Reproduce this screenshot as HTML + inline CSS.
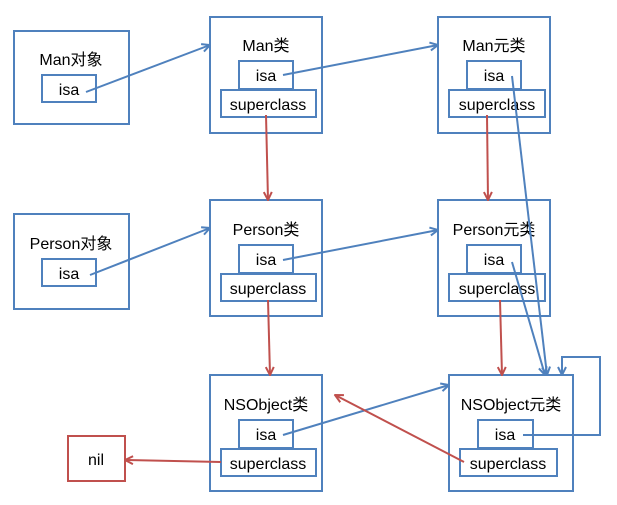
<!DOCTYPE html>
<html><head><meta charset="utf-8"><style>
html,body{margin:0;padding:0;background:#fff;width:617px;height:505px;overflow:hidden}
text{font-family:"Liberation Sans","Noto Sans CJK SC",sans-serif;font-size:16px;fill:#000}
</style></head><body>
<svg width="617" height="505" xmlns="http://www.w3.org/2000/svg">
<defs>
<marker id="b" markerWidth="10" markerHeight="10" refX="9" refY="5" orient="auto" markerUnits="userSpaceOnUse"><path d="M1,1 L9,5 L1,9" fill="none" stroke="#4f81bd" stroke-width="2"/></marker>
<marker id="r" markerWidth="10" markerHeight="10" refX="9" refY="5" orient="auto" markerUnits="userSpaceOnUse"><path d="M1,1 L9,5 L1,9" fill="none" stroke="#c0504d" stroke-width="2"/></marker>
</defs>
<g fill="#fff" stroke="#4f81bd" stroke-width="2">
<rect x="14" y="31" width="115" height="93"/><rect x="42" y="75" width="54" height="27"/>
<rect x="14" y="214" width="115" height="95"/><rect x="42" y="259" width="54" height="27"/>
<rect x="210" y="17" width="112" height="116"/><rect x="239" y="61" width="54" height="28"/><rect x="221" y="90" width="95" height="27"/>
<rect x="438" y="17" width="112" height="116"/><rect x="467" y="61" width="54" height="28"/><rect x="449" y="90" width="96" height="27"/>
<rect x="210" y="200" width="112" height="116"/><rect x="239" y="245" width="54" height="28"/><rect x="221" y="274" width="95" height="27"/>
<rect x="438" y="200" width="112" height="116"/><rect x="467" y="245" width="54" height="28"/><rect x="449" y="274" width="96" height="27"/>
<rect x="210" y="375" width="112" height="116"/><rect x="239" y="420" width="54" height="28"/><rect x="221" y="449" width="95" height="27"/>
<rect x="449" y="375" width="124" height="116"/><rect x="478" y="420" width="55" height="28"/><rect x="460" y="449" width="97" height="27"/>
</g>
<rect x="68" y="436" width="57" height="45" fill="#fff" stroke="#c0504d" stroke-width="2"/>
<g text-anchor="middle">
<text x="71" y="65">Man对象</text><text x="69" y="95">isa</text>
<text x="71" y="249">Person对象</text><text x="69" y="279">isa</text>
<text x="266" y="51">Man类</text><text x="266" y="81">isa</text><text x="268" y="110">superclass</text>
<text x="494" y="51">Man元类</text><text x="494" y="81">isa</text><text x="497" y="110">superclass</text>
<text x="266" y="235">Person类</text><text x="266" y="265">isa</text><text x="268" y="294">superclass</text>
<text x="494" y="235">Person元类</text><text x="494" y="265">isa</text><text x="497" y="294">superclass</text>
<text x="266" y="410">NSObject类</text><text x="266" y="440">isa</text><text x="268" y="469">superclass</text>
<text x="511" y="410">NSObject元类</text><text x="505" y="440">isa</text><text x="508" y="469">superclass</text>
<text x="96" y="465">nil</text>
</g>
<g stroke="#4f81bd" stroke-width="2" fill="none" marker-end="url(#b)">
<line x1="86" y1="92" x2="210" y2="45"/>
<line x1="283" y1="75" x2="438" y2="45"/>
<line x1="90" y1="275" x2="210" y2="228"/>
<line x1="283" y1="260" x2="438" y2="230"/>
<line x1="512" y1="76" x2="547" y2="375"/>
<line x1="512" y1="262" x2="545" y2="375"/>
<line x1="283" y1="435" x2="449" y2="385"/>
<polyline points="523,435 600,435 600,357 562,357 562,375"/>
</g>
<g stroke="#c0504d" stroke-width="2" fill="none" marker-end="url(#r)">
<line x1="266" y1="115" x2="268" y2="200"/>
<line x1="487" y1="115" x2="488" y2="200"/>
<line x1="268" y1="300" x2="270" y2="375"/>
<line x1="500" y1="300" x2="502" y2="375"/>
<line x1="464" y1="462" x2="335" y2="395"/>
<line x1="221" y1="462" x2="125" y2="460"/>
</g>
</svg>
</body></html>
